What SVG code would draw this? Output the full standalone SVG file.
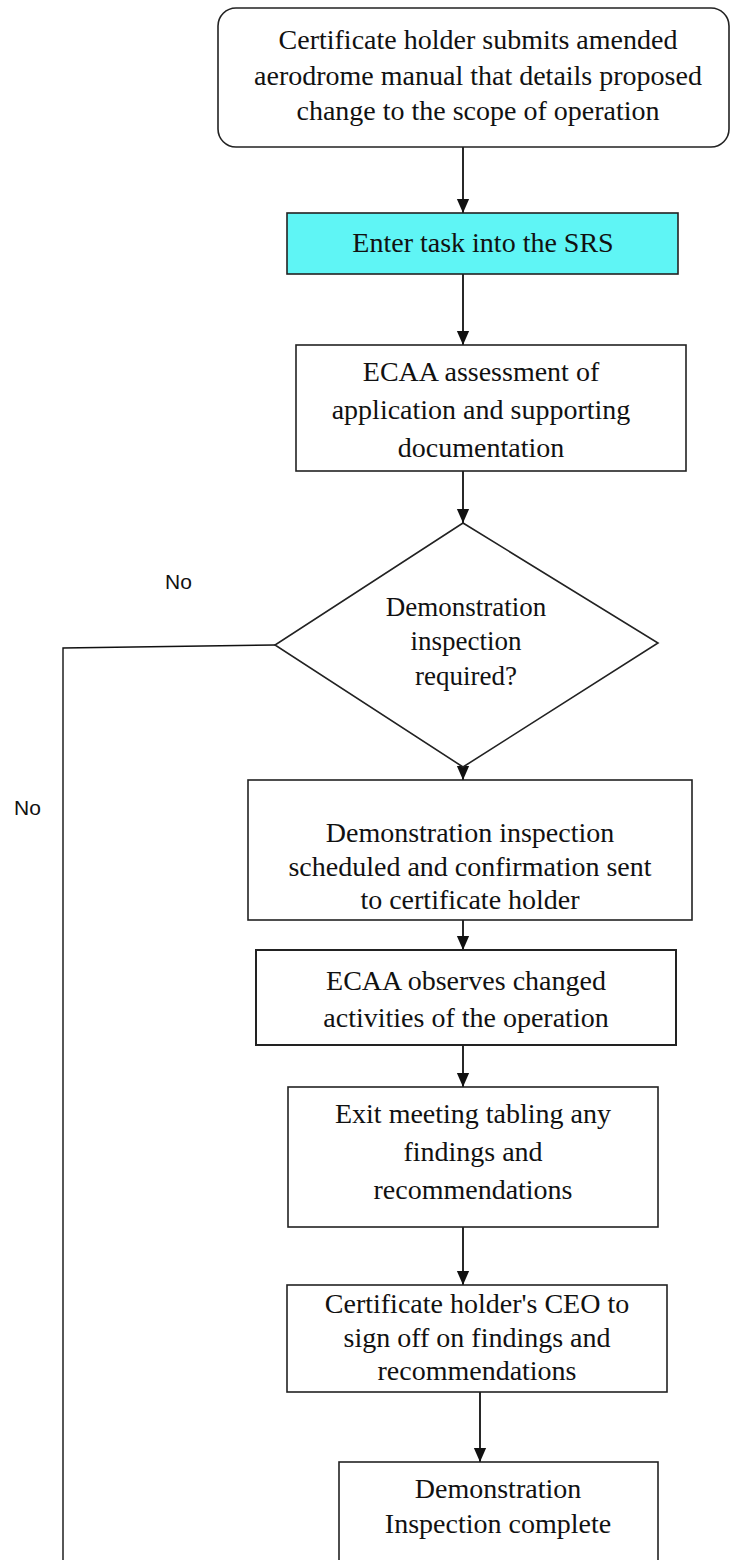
<svg xmlns="http://www.w3.org/2000/svg" width="730" height="1560" viewBox="0 0 730 1560">
<style>
.box{fill:#fff;stroke:#222;stroke-width:1.6}
.t{font-family:"Liberation Serif",serif;font-size:28px;fill:#111;text-anchor:middle}
.d{font-family:"Liberation Serif",serif;font-size:27px;fill:#111;text-anchor:middle}
.s{font-family:"Liberation Sans",Arial,sans-serif;font-size:21px;fill:#111}
.c{stroke:#111;stroke-width:1.8;fill:none}
</style>
<defs>
<marker id="arr" markerWidth="14" markerHeight="16" refX="16" refY="7" orient="auto" markerUnits="userSpaceOnUse" viewBox="0 0 16 14">
<path d="M0,0 L16,7 L0,14 Z" fill="#111"/>
</marker>
</defs>
<g id="connectors">
<line class="c" x1="463" y1="147" x2="463" y2="213" marker-end="url(#arr)"/>
<line class="c" x1="463" y1="274" x2="463" y2="345" marker-end="url(#arr)"/>
<line class="c" x1="463" y1="471" x2="463" y2="523" marker-end="url(#arr)"/>
<line class="c" x1="463" y1="767" x2="463" y2="780" marker-end="url(#arr)"/>
<line class="c" x1="463" y1="920" x2="463" y2="950" marker-end="url(#arr)"/>
<line class="c" x1="463" y1="1045" x2="463" y2="1087" marker-end="url(#arr)"/>
<line class="c" x1="463" y1="1227" x2="463" y2="1285" marker-end="url(#arr)"/>
<line class="c" x1="480" y1="1392" x2="480" y2="1462" marker-end="url(#arr)"/>
<polyline class="c" points="275,645 63,648 63,1560" style="stroke-width:1.4"/>
</g>
<g id="n1">
<rect class="box" x="218" y="8" width="511" height="139" rx="18"/>
<text class="t" x="478" y="49">Certificate holder submits amended</text>
<text class="t" x="478" y="85">aerodrome manual that details proposed</text>
<text class="t" x="478" y="120">change to the scope of operation</text>
</g>
<g id="n2">
<rect class="box" x="287" y="213" width="391" height="61" style="fill:#5ff5f5"/>
<text class="t" x="483" y="252">Enter task into the SRS</text>
</g>
<g id="n3">
<rect class="box" x="296" y="345" width="390" height="126"/>
<text class="t" x="481" y="381">ECAA assessment of</text>
<text class="t" x="481" y="419">application and supporting</text>
<text class="t" x="481" y="457">documentation</text>
</g>
<g id="n4">
<polygon class="box" points="463,523 658,643 463,767 275,645"/>
<text class="d" x="466" y="616">Demonstration</text>
<text class="d" x="466" y="650">inspection</text>
<text class="d" x="466" y="685">required?</text>
</g>
<g id="labels">
<text class="s" x="165" y="589">No</text>
<text class="s" x="14" y="815">No</text>
</g>
<g id="n5">
<rect class="box" x="248" y="780" width="444" height="140"/>
<text class="t" x="470" y="842">Demonstration inspection</text>
<text class="t" x="470" y="876">scheduled and confirmation sent</text>
<text class="t" x="470" y="909">to certificate holder</text>
</g>
<g id="n6">
<rect class="box" x="256" y="950" width="420" height="95" style="stroke-width:2"/>
<text class="t" x="466" y="990">ECAA observes changed</text>
<text class="t" x="466" y="1027">activities of the operation</text>
</g>
<g id="n7">
<rect class="box" x="288" y="1087" width="370" height="140"/>
<text class="t" x="473" y="1123">Exit meeting tabling any</text>
<text class="t" x="473" y="1161">findings and</text>
<text class="t" x="473" y="1199">recommendations</text>
</g>
<g id="n8">
<rect class="box" x="287" y="1285" width="380" height="107"/>
<text class="t" x="477" y="1313">Certificate holder's CEO to</text>
<text class="t" x="477" y="1347">sign off on findings and</text>
<text class="t" x="477" y="1380">recommendations</text>
</g>
<g id="n9">
<rect class="box" x="339" y="1462" width="319" height="120"/>
<text class="t" x="498" y="1498">Demonstration</text>
<text class="t" x="498" y="1533">Inspection complete</text>
</g>
</svg>
